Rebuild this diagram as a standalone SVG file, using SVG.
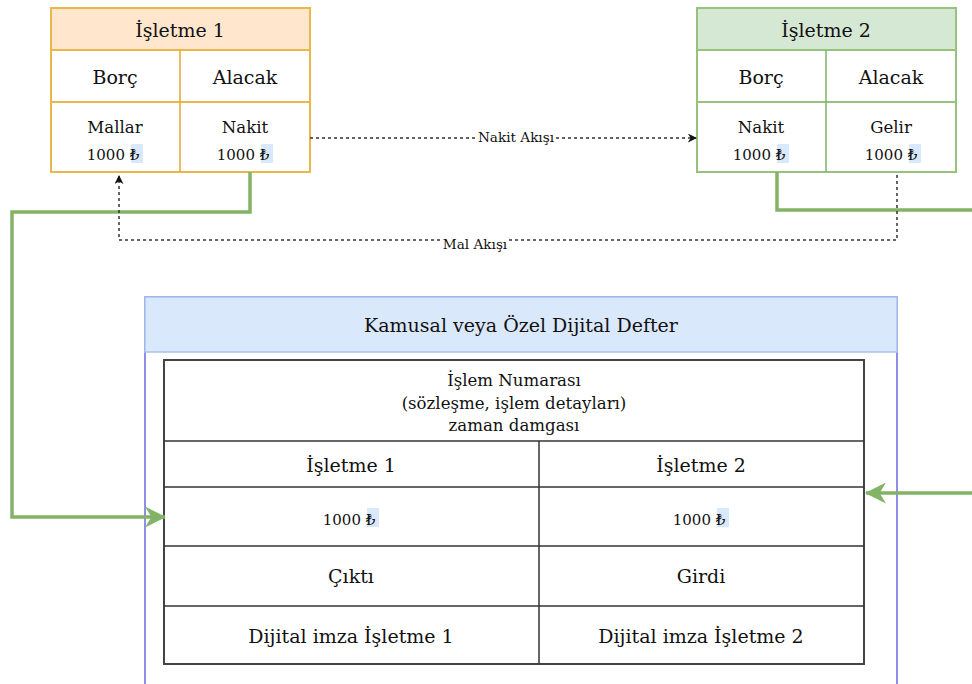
<svg xmlns="http://www.w3.org/2000/svg" width="972" height="684" viewBox="0 0 972 684">
  <defs>
    <style>
      text { font-family: "DejaVu Serif", "Liberation Serif", serif; fill: #111; text-anchor: middle; }
      .big { font-size: 19px; }
      .mid { font-size: 16.6px; }
      .num { font-size: 15px; }
      .lbl { font-size: 13.6px; }
      .cur { fill: #dae8fc; }
      .o { fill: #ffffff; stroke: #e8b84a; stroke-width: 2; }
      .g { fill: #ffffff; stroke: #97c27c; stroke-width: 2; }
      .cell { fill: none; stroke: #333; stroke-width: 1.5; }
      .flow { fill: none; stroke: #333; stroke-width: 1.5; stroke-dasharray: 3 3; }
      .green { fill: none; stroke: #82b366; stroke-width: 3.5; }
    </style>
    <marker id="ah" viewBox="0 0 10 10" refX="9" refY="5" markerWidth="9" markerHeight="9" orient="auto" markerUnits="userSpaceOnUse">
      <path d="M0,0 L10,5 L0,10 L3,5 Z" fill="#111"/>
    </marker>
    <marker id="gh" viewBox="0 0 20 20" refX="19" refY="10" markerWidth="21" markerHeight="21" orient="auto" markerUnits="userSpaceOnUse">
      <path d="M0,0 L20,10 L0,20 L6,10 Z" fill="#82b366"/>
    </marker>
  </defs>

  <!-- first business ledger -->
  <g id="isletme1">
    <rect x="51" y="8" width="259" height="164" class="o"/>
    <rect x="51" y="8" width="259" height="42" fill="#ffe6cc" stroke="#e8b84a" stroke-width="2"/>
    <line x1="51" y1="102" x2="310" y2="102" stroke="#e8b84a" stroke-width="2"/>
    <line x1="180" y1="50" x2="180" y2="172" stroke="#e0a830" stroke-width="1.5"/>
    <text class="big" x="180" y="37">İşletme 1</text>
    <text class="big" x="115" y="84">Borç</text>
    <text class="big" x="245" y="84">Alacak</text>
    <text class="mid" x="115" y="133">Mallar</text>
    <rect class="cur" x="131" y="144" width="12" height="19"/>
    <text class="num" x="113" y="160">1000 ₺</text>
    <text class="mid" x="245" y="133">Nakit</text>
    <rect class="cur" x="261" y="144" width="12" height="19"/>
    <text class="num" x="243" y="160">1000 ₺</text>
  </g>

  <!-- second business ledger -->
  <g id="isletme2">
    <rect x="697" y="8" width="259" height="164" class="g"/>
    <rect x="697" y="8" width="259" height="42" fill="#d5e8d4" stroke="#97c27c" stroke-width="2"/>
    <line x1="697" y1="102" x2="956" y2="102" stroke="#97c27c" stroke-width="2"/>
    <line x1="826" y1="50" x2="826" y2="172" stroke="#82b366" stroke-width="1.5"/>
    <text class="big" x="826" y="37">İşletme 2</text>
    <text class="big" x="761" y="84">Borç</text>
    <text class="big" x="891" y="84">Alacak</text>
    <text class="mid" x="761" y="133">Nakit</text>
    <rect class="cur" x="777" y="144" width="12" height="19"/>
    <text class="num" x="759" y="160">1000 ₺</text>
    <text class="mid" x="891" y="133">Gelir</text>
    <rect class="cur" x="909" y="144" width="12" height="19"/>
    <text class="num" x="891" y="160">1000 ₺</text>
  </g>

  <!-- shared ledger container -->
  <g id="defter">
    <rect x="145" y="297" width="752" height="400" fill="#fff" stroke="#6a6ae0" stroke-width="1.5"/>
    <rect x="145" y="297" width="752" height="55" fill="#dae8fc" stroke="#a9c4eb" stroke-width="1.5"/>
    <text class="big" x="521" y="332">Kamusal veya Özel Dijital Defter</text>
  </g>

  <!-- transaction record table -->
  <g id="kayit">
    <rect x="164" y="360" width="700" height="304" fill="#fff" stroke="#444" stroke-width="2"/>
    <line class="cell" x1="164" y1="441" x2="864" y2="441"/>
    <line class="cell" x1="164" y1="487" x2="864" y2="487"/>
    <line class="cell" x1="164" y1="546" x2="864" y2="546"/>
    <line class="cell" x1="164" y1="606" x2="864" y2="606"/>
    <line class="cell" x1="539" y1="441" x2="539" y2="664"/>
    <text class="mid" x="514" y="386">İşlem Numarası</text>
    <text class="mid" x="514" y="409">(sözleşme, işlem detayları)</text>
    <text class="mid" x="514" y="431">zaman damgası</text>
    <text class="big" x="351" y="472">İşletme 1</text>
    <text class="big" x="701" y="472">İşletme 2</text>
    <rect class="cur" x="367" y="508" width="12" height="19"/>
    <text class="num" x="349" y="525">1000 ₺</text>
    <rect class="cur" x="717" y="508" width="12" height="19"/>
    <text class="num" x="699" y="525">1000 ₺</text>
    <text class="big" x="351" y="583">Çıktı</text>
    <text class="big" x="701" y="583">Girdi</text>
    <text class="big" x="351" y="643">Dijital imza İşletme 1</text>
    <text class="big" x="701" y="643">Dijital imza İşletme 2</text>
  </g>

  <!-- connectors -->
  <g id="connectors">
    <path class="green" d="M250,172 V212 H12 V517 H165" marker-end="url(#gh)"/>
    <path class="green" d="M777,172 V210 H972"/>
    <path class="green" d="M972,493 H866" marker-end="url(#gh)"/>
    <path class="flow" d="M310,138 H696" marker-end="url(#ah)"/>
    <rect x="477" y="130" width="78" height="16" fill="#fff"/>
    <text class="lbl" x="516" y="142">Nakit Akışı</text>
    <path class="flow" d="M897,175 V240 H119 V176" marker-end="url(#ah)"/>
    <rect x="441" y="238" width="68" height="16" fill="#fff"/>
    <text class="lbl" x="475" y="249">Mal Akışı</text>
  </g>
</svg>
